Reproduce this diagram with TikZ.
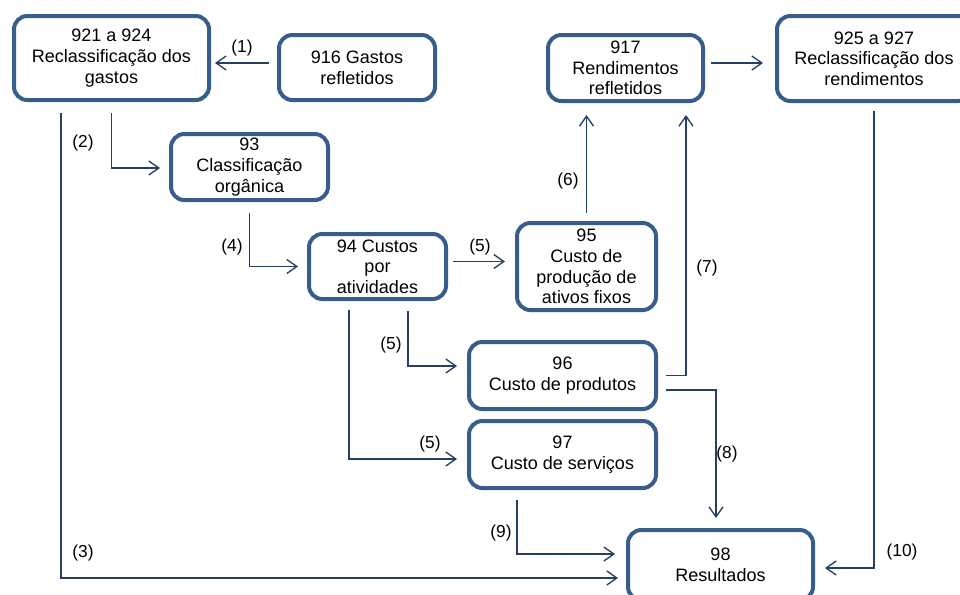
\documentclass[tikz,border=0pt]{standalone}
\usepackage{fontspec}
\setmainfont{Liberation Sans}
\usetikzlibrary{arrows.meta,calc}
\definecolor{boxblue}{RGB}{56,93,138}
\definecolor{linkblue}{RGB}{36,64,98}
\tikzset{
  acct/.style={draw=boxblue, line width=3pt, rounded corners=10pt, align=center,
    inner sep=2pt, font=\fontsize{13.5}{15.5}\selectfont, text=black},
  conn/.style={draw=linkblue, line width=1pt,
    -{Straight Barb[length=7.5pt,width=10.5pt,line width=1pt]}},
  tag/.style={font=\fontsize{13}{15.5}\selectfont, text=black, inner sep=0pt}
}
\begin{document}
\begin{tikzpicture}[x=0.75pt, y=-0.75pt]
\useasboundingbox (0,0) rectangle (960,594);
\clip (0,0) rectangle (960,594);
\fill[white] (0,0) rectangle (960,594);

% accounting classes
\node[acct, minimum width=146.25pt, minimum height=63pt] (n921) at (111.5,58) {921 a 924\\Reclassificação dos\\gastos};
\node[acct, minimum width=117pt, minimum height=48.75pt] (n916) at (357,67.5) {916 Gastos\\refletidos};
\node[acct, minimum width=117.75pt, minimum height=49.5pt] (n93) at (249.5,167) {93\\Classificação\\orgânica};
\node[acct, minimum width=102.75pt, minimum height=48.75pt] (n94) at (377.5,266.5) {94 Custos\\por\\atividades};
\node[acct, minimum width=104.25pt, minimum height=65.25pt] (n95) at (586.5,266.5) {95\\Custo de\\produção de\\ativos fixos};
\node[acct, minimum width=116.25pt, minimum height=49.5pt] (n917) at (625.5,68) {917\\Rendimentos\\refletidos};
\node[acct, minimum width=145.5pt, minimum height=63.75pt] (n925) at (874,58.5) {925 a 927\\Reclassificação dos\\rendimentos};
\node[acct, minimum width=140.25pt, minimum height=50.25pt] (n96) at (562.5,375.5) {96\\Custo de produtos};
\node[acct, minimum width=140.25pt, minimum height=50.25pt] (n97) at (562.5,454.5) {97\\Custo de serviços};
\node[acct, minimum width=138.75pt, minimum height=52.5pt] (n98) at (720.5,565) {98\\Resultados};

% flows between classes
\draw[conn] ($(n916.west)+(-8,-4.5)$) -- ($(n921.east)+(4,5)$);
\draw[conn] ($(n921.south)+(0,11)$) |- ($(n93.west)+(-9,1)$);
\draw[conn] ($(n921.south west)+(49,11)$) |- ($(n98.west)+(-8,13)$);
\draw[conn] ($(n93.south)+(0,11)$) |- ($(n94.west)+(-9,0)$);
\draw[conn] ($(n94.east)+(5,-5)$) -- ($(n95.west)+(-10,-5)$);
\draw[conn] ($(n94.south)+(30.5,10)$) |- ($(n96.west)+(-10,-9.5)$);
\draw[conn] ($(n94.south)+(-28.5,9)$) |- ($(n97.west)+(-10,4.5)$);
\coordinate (s6) at ($(n95.north)+(0,-8)$);
\coordinate (t6) at ($(n917.south)+(0,12)$);
\draw[conn] (s6) -- (s6 |- t6);
\draw[conn] ($(n96.east)+(8,0)$) -| ($(n917.south)+(60.5,12)$);
\draw[conn] ($(n96.east)+(8,14.5)$) -| ($(n98.north)+(-4.5,-10)$);
\draw[conn] ($(n97.south)+(-45.5,10)$) |- ($(n98.west)+(-11,-11)$);
\draw[conn] ($(n925.south)+(0,8)$) |- ($(n98.east)+(10,3)$);
\draw[conn] ($(n917.east)+(6,-5)$) -- ($(n925.west)+(-12,4.5)$);

% flow numbers
\node[tag] (l1) at (242,48) {(1)};
\node[tag] (l2) at (83,143) {(2)};
\node[tag] (l3) at (83,553) {(3)};
\node[tag] (l4) at (232,247) {(4)};
\node[tag] (l5a) at (480,247) {(5)};
\node[tag] (l5b) at (391,345) {(5)};
\node[tag] (l5c) at (430,444) {(5)};
\node[tag] (l6) at (568,181) {(6)};
\node[tag] (l7) at (707,268) {(7)};
\node[tag] (l8) at (727,454) {(8)};
\node[tag] (l9) at (501,533) {(9)};
\node[tag] (l10) at (902,552) {(10)};
\end{tikzpicture}
\end{document}
